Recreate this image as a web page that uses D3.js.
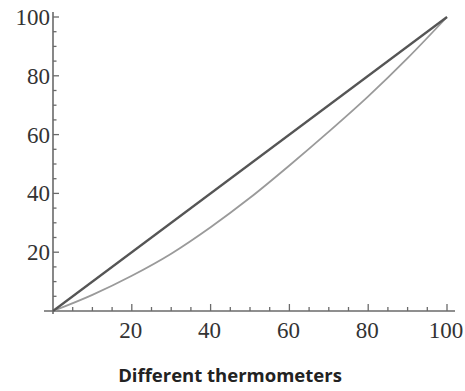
<!DOCTYPE html>
<html><head><meta charset="utf-8">
<script src="https://cdn.jsdelivr.net/npm/d3@7"></script>
<style>body{margin:0;background:#fff}</style>
</head><body>
<svg id="c" width="465" height="391"></svg>
<script>
const xTicks = [20, 40, 60, 80, 100];
const yTicks = [20, 40, 60, 80, 100];
const lineX = [0, 100];
const lineY = [0, 100];
const curveX = [0, 10, 20, 30, 40, 50, 60, 70, 80, 90, 100];
const curveY = [0, 5.5, 12, 19.5, 28.5, 38.5, 49.5, 61, 73, 86, 100];
const xTitle = "Different thermometers";

const svg = d3.select("#c");
const x = d3.scaleLinear().domain([0, 100]).range([53, 447]);
const y = d3.scaleLinear().domain([0, 100]).range([311, 17]);
const axisColor = "#6a6a6a";

svg.append("line").attr("x1", x(0)).attr("x2", x(0)).attr("y1", 12).attr("y2", 314)
  .attr("stroke", axisColor).attr("stroke-width", 1.6);
svg.append("line").attr("x1", 44).attr("x2", 455).attr("y1", y(0)).attr("y2", y(0))
  .attr("stroke", axisColor).attr("stroke-width", 1.6);

const minor = d3.range(5, 101, 5);
const g = svg.append("g").attr("stroke", axisColor).attr("stroke-width", 1.3);
minor.forEach(v => {
  const major = v % 20 === 0;
  g.append("line").attr("x1", x(0)).attr("x2", x(0) + (major ? 6 : 3.5))
    .attr("y1", y(v)).attr("y2", y(v));
  g.append("line").attr("x1", x(v)).attr("x2", x(v))
    .attr("y1", y(0)).attr("y2", y(0) - (major ? 7 : 4));
});

svg.selectAll(".yl").data(yTicks).enter().append("text")
  .attr("x", x(0) - 3).attr("y", d => y(d)).attr("dy", "0.35em")
  .attr("text-anchor", "end")
  .style("font-family", "'Liberation Serif', 'DejaVu Serif', serif")
  .style("font-size", "23px").attr("fill", "#333").text(d => d);
svg.selectAll(".xl").data(xTicks).enter().append("text")
  .attr("x", d => x(d) - 1).attr("y", 338)
  .attr("text-anchor", "middle")
  .style("font-family", "'Liberation Serif', 'DejaVu Serif', serif")
  .style("font-size", "23px").attr("fill", "#333").text(d => d);

const ln = d3.line().x(d => x(d[0])).y(d => y(d[1])).curve(d3.curveMonotoneX);
svg.append("path").datum(curveX.map((v, i) => [v, curveY[i]])).attr("d", ln)
  .attr("fill", "none").attr("stroke", "#9a9a9a").attr("stroke-width", 1.8);
svg.append("path").datum(lineX.map((v, i) => [v, lineY[i]])).attr("d", ln)
  .attr("fill", "none").attr("stroke", "#555").attr("stroke-width", 2.2);

svg.append("text").attr("x", 230).attr("y", 382).attr("text-anchor", "middle")
  .style("font-family", "'Open Sans', sans-serif").style("font-weight", "bold")
  .style("font-size", "18.5px").attr("fill", "#222").text(xTitle);
</script>
</body></html>
